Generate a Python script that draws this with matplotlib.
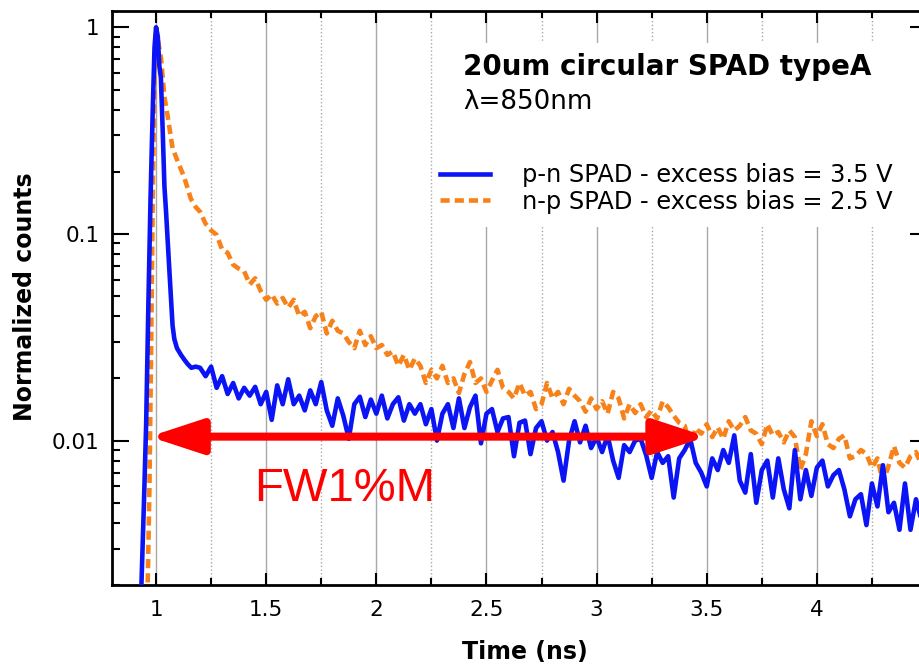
import numpy as np
import matplotlib
matplotlib.use('Agg')
import matplotlib.pyplot as plt
from matplotlib.patches import Rectangle
from matplotlib.ticker import MultipleLocator, LogLocator, FixedLocator, FuncFormatter, NullFormatter

plt.rcParams['font.family'] = 'DejaVu Sans'

# --- data (time in ns, normalized counts) ---
# p-n SPAD, rise + peak + fast decay
pn_head_t = [0.930, 0.945, 0.955, 0.965, 0.975, 0.985, 0.993, 1.000, 1.008, 1.015,
             1.022, 1.030, 1.038, 1.045, 1.053, 1.060, 1.068, 1.075, 1.083, 1.095,
             1.113, 1.130, 1.143, 1.160, 1.180]
pn_head_y = [0.0015, 0.005, 0.012, 0.045, 0.15, 0.40, 0.80, 1.00, 0.90, 0.65,
             0.57, 0.32, 0.17, 0.13, 0.093, 0.068, 0.048, 0.036, 0.031, 0.028,
             0.026, 0.0245, 0.0235, 0.0225, 0.0228]

# p-n SPAD tail, 25 ps bins starting at 1.2 ns
pn_tail_y = [
    0.0225, 0.0205, 0.0228, 0.0180, 0.0205, 0.0168, 0.0190, 0.0160,
    0.0180, 0.0165, 0.0182, 0.0150, 0.0172, 0.0126, 0.0185, 0.0150,
    0.0198, 0.0150, 0.0165, 0.0140, 0.0175, 0.0150, 0.0192, 0.0140,
    0.0118, 0.0160, 0.0132, 0.0102, 0.0150, 0.0163, 0.0130, 0.0158,
    0.0135, 0.0165, 0.0128, 0.0150, 0.0162, 0.0125, 0.0150, 0.0135,
    0.0150, 0.0120, 0.0142, 0.0100, 0.0135, 0.0150, 0.0115, 0.0160,
    0.0115, 0.0145, 0.0165, 0.0097, 0.0135, 0.0142, 0.0110, 0.0128,
    0.0130, 0.0084, 0.0122, 0.0125, 0.0086, 0.0115, 0.0124, 0.0100,
    0.0110, 0.0088, 0.0064, 0.0100, 0.0124, 0.0098, 0.0118, 0.0092,
    0.0104, 0.0088, 0.0106, 0.0080, 0.0066, 0.0095, 0.0088, 0.0100,
    0.0102, 0.0085, 0.0066, 0.0088, 0.0078, 0.0084, 0.0053, 0.0082,
    0.0090, 0.0102, 0.0078, 0.0070, 0.0060, 0.0082, 0.0072, 0.0090,
    0.0078, 0.0106, 0.0064, 0.0056, 0.0086, 0.0050, 0.0072, 0.0080,
    0.0053, 0.0082, 0.0058, 0.0047, 0.0090, 0.0052, 0.0072, 0.0054,
    0.0074, 0.0080, 0.0060, 0.0068, 0.0072, 0.0058, 0.0043, 0.0052,
    0.0055, 0.0039, 0.0062, 0.0048, 0.0076, 0.0045, 0.0050, 0.0037,
    0.0062, 0.0037, 0.0052, 0.0041, 0.0050]

# n-p SPAD
np_head_t = [0.960, 0.970, 0.978, 0.985, 0.993, 1.000, 1.010, 1.023, 1.038, 1.053,
             1.075, 1.098, 1.128, 1.158, 1.180]
np_head_y = [0.0015, 0.006, 0.03, 0.15, 0.6, 1.0, 0.85, 0.70, 0.46, 0.37,
             0.26, 0.225, 0.188, 0.148, 0.135]

np_tail_y = [
    0.128, 0.112, 0.104, 0.099, 0.084, 0.081, 0.071, 0.068,
    0.066, 0.057, 0.061, 0.053, 0.048, 0.051, 0.046, 0.049,
    0.044, 0.048, 0.040, 0.042, 0.035, 0.040, 0.042, 0.033,
    0.038, 0.034, 0.033, 0.030, 0.028, 0.034, 0.029, 0.032,
    0.028, 0.029, 0.026, 0.027, 0.023, 0.026, 0.022, 0.025,
    0.023, 0.019, 0.022, 0.020, 0.023, 0.019, 0.020, 0.017,
    0.021, 0.024, 0.019, 0.020, 0.0172, 0.0195, 0.022, 0.018,
    0.0172, 0.016, 0.019, 0.0165, 0.0172, 0.0142, 0.015, 0.019,
    0.016, 0.0172, 0.0150, 0.0178, 0.0165, 0.0155, 0.0138, 0.016,
    0.0142, 0.0155, 0.0135, 0.0172, 0.0160, 0.0128, 0.0150, 0.0136,
    0.0150, 0.0130, 0.0140, 0.0128, 0.0155, 0.0145, 0.0132, 0.0122,
    0.0118, 0.0094, 0.0115, 0.0108, 0.0120, 0.0104, 0.0116, 0.0102,
    0.0124, 0.0112, 0.0118, 0.0130, 0.0112, 0.0108, 0.0096, 0.0120,
    0.0106, 0.0110, 0.0098, 0.0112, 0.0104, 0.0072, 0.0086, 0.0124,
    0.0105, 0.0120, 0.0096, 0.0092, 0.0102, 0.0106, 0.0082, 0.0084,
    0.0090, 0.0086, 0.0074, 0.0082, 0.0063, 0.0075, 0.0094, 0.0078,
    0.0074, 0.0084, 0.0088, 0.0076, 0.0082]

tail_start, tail_step = 1.2, 0.025

labels = ['p-n SPAD - excess bias = 3.5 V', 'n-p SPAD - excess bias = 2.5 V']
title_lines = ['20um circular SPAD typeA', 'λ=850nm']
xticks = [1, 1.5, 2, 2.5, 3, 3.5, 4]
yticks = [0.01, 0.1, 1]
ytick_labels = ['0.01', '0.1', '1']
fw_start, fw_end, fw_level = 0.97, 3.5, 0.01045

# build full series
pn_t = np.concatenate([pn_head_t, tail_start + tail_step * np.arange(len(pn_tail_y))])
pn_y = np.concatenate([pn_head_y, pn_tail_y])
np_t = np.concatenate([np_head_t, tail_start + tail_step * np.arange(len(np_tail_y))])
np_y = np.concatenate([np_head_y, np_tail_y])

BLUE = '#0a14f5'
ORANGE = '#f7821a'

fig = plt.figure(figsize=(9.2, 6.66), dpi=100)
# axes runs slightly past the right edge, as in the cropped original
ax = fig.add_axes([112 / 920, 81 / 666, 815 / 920, 574 / 666])

l_np, = ax.plot(np_t, np_y, color=ORANGE, lw=3.3, ls=(0, (2.0, 1.1)), zorder=3)
l_pn, = ax.plot(pn_t, pn_y, color=BLUE, lw=3.3, zorder=4)

ax.set_yscale('log')
ax.set_xlim(0.8, 4.5)
ax.set_ylim(0.002, 1.2)

ax.xaxis.set_major_locator(FixedLocator(xticks))
ax.xaxis.set_minor_locator(MultipleLocator(0.25))
ax.xaxis.set_major_formatter(FuncFormatter(lambda v, p: f'{v:g}'))
ax.yaxis.set_major_locator(FixedLocator(yticks))
ax.set_yticklabels(ytick_labels)
ax.yaxis.set_minor_locator(LogLocator(base=10, subs=np.arange(2, 10)))
ax.yaxis.set_minor_formatter(NullFormatter())

ax.tick_params(which='both', direction='in', top=True, right=True, labelsize=15.5, width=1.5)
ax.tick_params(axis='x', which='major', length=8.5, pad=11)
ax.tick_params(axis='x', which='minor', length=5)
ax.tick_params(axis='y', which='major', length=12, pad=9)
ax.tick_params(axis='y', which='minor', length=6)
for s in ax.spines.values():
    s.set_linewidth(2)

ax.set_axisbelow(True)
ax.grid(axis='x', which='major', color='#a8a8a8', lw=1, ls='-')
ax.grid(axis='x', which='minor', color='#a8a8a8', lw=1, ls=':')

# white panel behind title + legend (hides the grid there)
ax.add_patch(Rectangle((0.398, 0.624), 0.575, 0.32, transform=ax.transAxes,
                       facecolor='white', edgecolor='none', zorder=1.5))

ax.text(0.4307, 0.903, title_lines[0], transform=ax.transAxes, fontsize=20,
        fontweight='bold', va='center', ha='left', zorder=5)
ax.text(0.4307, 0.8415, title_lines[1], transform=ax.transAxes, fontsize=18.8,
        va='center', ha='left', zorder=5)

ax.legend([l_pn, l_np], labels, loc='upper left', bbox_to_anchor=(0.4025, 0.735),
          frameon=False, fontsize=17.4, handlelength=2.05, handletextpad=1.35,
          borderpad=0, borderaxespad=0, labelspacing=0.1)

ax.set_xlabel('Time (ns)', fontsize=17, fontweight='bold', va='center')
ax.xaxis.set_label_coords(0.507, -0.117)
ax.set_ylabel('Normalized counts', fontsize=17, fontweight='bold', va='center')
ax.yaxis.set_label_coords(-0.107, 0.502)

# FW1%M double arrow
ax.annotate('', xy=(fw_start, fw_level), xytext=(fw_end, fw_level),
            arrowprops=dict(arrowstyle='<|-|>,head_length=32,head_width=10.5',
                            color='#ff0000', lw=5.8, shrinkA=0, shrinkB=0,
                            mutation_scale=1), zorder=6)
ax.text(1.445, 0.0058, 'FW1%M', color='#ff0000', fontsize=34,
        family=['Liberation Sans', 'DejaVu Sans'], va='center', ha='left', zorder=6)

fig.savefig('out.png', dpi=100)
